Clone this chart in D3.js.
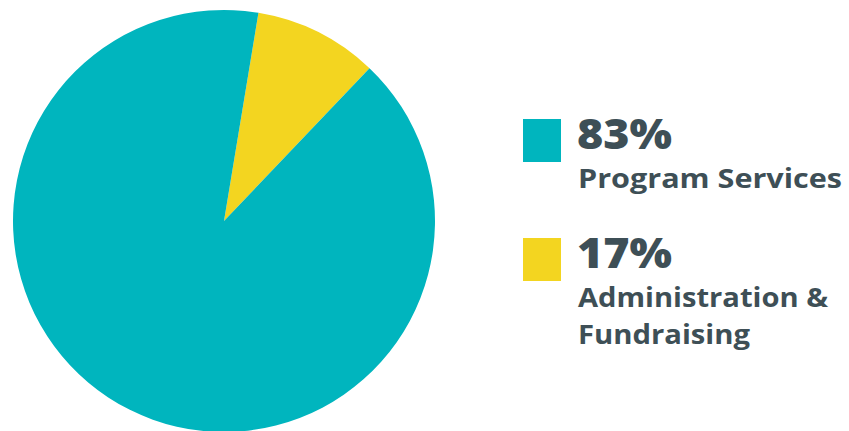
<!DOCTYPE html>
<html><head><meta charset="utf-8">
<script src="https://cdn.jsdelivr.net/npm/d3@7"></script>
<style>html,body{margin:0;padding:0;background:#fff;overflow:hidden}</style>
</head><body>
<svg id="c" width="849" height="431"></svg>
<script>
// Data
const categories = ["Administration & Fundraising", "Program Services"];
const sliceValues = [9.5, 90.5];           // slice sizes as drawn
const percentLabels = ["17%", "83%"];        // printed labels
const legendOrder = [1, 0];
const legendLines = { 0: ["Administration &", "Fundraising"], 1: ["Program Services"] };
const colors = ["#F3D520", "#00B5BE"];

const svg = d3.select("#c");
const cx = 224, cy = 221, r = 211;
const startDeg = 9.4;
const pie = d3.pie().sort(null).value(d => d)
  .startAngle(startDeg * Math.PI / 180)
  .endAngle((startDeg + 360) * Math.PI / 180);
const arc = d3.arc().innerRadius(0).outerRadius(r);
svg.append("g").attr("transform", `translate(${cx},${cy})`)
  .selectAll("path").data(pie(sliceValues)).join("path")
  .attr("d", arc).attr("fill", (d, i) => colors[i]);

const textColor = "#3E4F56";
const font = "'Open Sans', 'Noto Sans', sans-serif";
const legendY = [118, 237];
function fit(sel, w) {
  const len = sel.node().getComputedTextLength();
  if (len > 0) sel.attr("textLength", w).attr("lengthAdjust", "spacingAndGlyphs");
}
const lineWidths = { "Program Services": 264, "Administration &": 250, "Fundraising": 172 };
legendOrder.forEach((idx, k) => {
  const y0 = legendY[k];
  const g = svg.append("g");
  g.append("rect").attr("x", 523).attr("y", y0 + 1).attr("width", 38).attr("height", 43).attr("fill", colors[idx]);
  const p = g.append("text").attr("x", 577).attr("y", y0 + 31)
    .attr("font-family", font).attr("font-weight", 800).attr("font-size", 43)
    .attr("fill", textColor).text(percentLabels[idx]);
  fit(p, 95);
  legendLines[idx].forEach((line, j) => {
    const t = g.append("text").attr("x", 578).attr("y", y0 + 70 + j * 37)
      .attr("font-family", font).attr("font-weight", 700).attr("font-size", 26.5)
      .attr("fill", textColor).text(line);
    fit(t, lineWidths[line]);
  });
});
</script>
</body></html>
